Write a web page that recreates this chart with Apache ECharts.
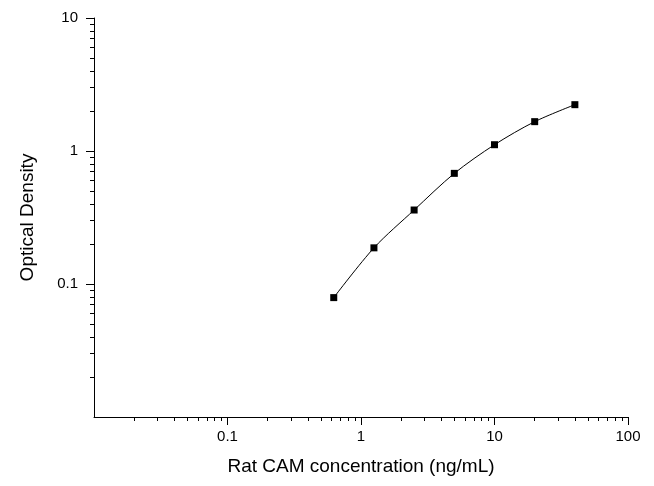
<!DOCTYPE html>
<html>
<head>
<meta charset="utf-8">
<script src="https://cdn.jsdelivr.net/npm/echarts@6/dist/echarts.min.js"></script>
<style>
html,body{margin:0;padding:0;background:#fff;}
#chart{width:654px;height:486px;}
</style>
</head>
<body>
<div id="chart"></div>
<script>
const concentration = [0.625, 1.25, 2.5, 5, 10, 20, 40];
const opticalDensity = [0.079, 0.187, 0.36, 0.679, 1.115, 1.662, 2.23];
const xMajorTicks = [0.1, 1, 10, 100];
const xMinorTicks = [0.02,0.03,0.04,0.05,0.06,0.07,0.08,0.09,0.2,0.3,0.4,0.5,0.6,0.7,0.8,0.9,2,3,4,5,6,7,8,9,20,30,40,50,60,70,80,90];
const yMajorTicks = [0.1, 1, 10];
const yMinorTicks = [0.02,0.03,0.04,0.05,0.06,0.07,0.08,0.09,0.2,0.3,0.4,0.5,0.6,0.7,0.8,0.9,2,3,4,5,6,7,8,9];

const font = 'Liberation Sans, Arial, sans-serif';
const chart = echarts.init(document.getElementById('chart'));
const fmt = v => String(v);

const baseX = {
  type: 'log', logBase: 10, min: 0.01, max: 100, position: 'bottom', offset: 0,
  splitLine: {show: false}, minorTick: {show: false}
};
const baseY = {
  type: 'log', logBase: 10, min: 0.01, max: 10, position: 'left', offset: 0,
  splitLine: {show: false}, minorTick: {show: false}
};

chart.setOption({
  animation: false,
  backgroundColor: '#fff',
  grid: {left: 94, right: 26, top: 18, bottom: 69, containLabel: false},
  xAxis: [
    Object.assign({}, baseX, {
      name: 'Rat CAM concentration (ng/mL)',
      nameLocation: 'middle', nameGap: 40,
      nameTextStyle: {fontFamily: font, fontSize: 19, color: '#000'},
      axisLine: {show: true, lineStyle: {color: '#000', width: 1}},
      axisTick: {show: true, length: 8, customValues: xMajorTicks, lineStyle: {color: '#000', width: 1}},
      axisLabel: {show: true, customValues: xMajorTicks, margin: 12, formatter: fmt,
        fontFamily: font, fontSize: 15, color: '#000'}
    }),
    Object.assign({}, baseX, {
      axisLine: {show: false},
      axisTick: {show: true, length: 4, customValues: xMinorTicks, lineStyle: {color: '#000', width: 1}},
      axisLabel: {show: false}
    })
  ],
  yAxis: [
    Object.assign({}, baseY, {
      name: 'Optical Density',
      nameLocation: 'middle', nameGap: 57,
      nameTextStyle: {fontFamily: font, fontSize: 19, color: '#000'},
      axisLine: {show: true, lineStyle: {color: '#000', width: 1}},
      axisTick: {show: true, length: 8, customValues: yMajorTicks, lineStyle: {color: '#000', width: 1}},
      axisLabel: {show: true, customValues: yMajorTicks, margin: 16, formatter: fmt,
        fontFamily: font, fontSize: 15, color: '#000'}
    }),
    Object.assign({}, baseY, {
      axisLine: {show: false},
      axisTick: {show: true, length: 4, customValues: yMinorTicks, lineStyle: {color: '#000', width: 1}},
      axisLabel: {show: false}
    })
  ],
  series: [{
    type: 'line',
    xAxisIndex: 0, yAxisIndex: 0,
    data: concentration.map((c, i) => [c, opticalDensity[i]]),
    smooth: 0.3,
    symbol: 'rect', symbolSize: 7,
    lineStyle: {color: '#000', width: 1},
    itemStyle: {color: '#000'}
  }]
});
</script>
</body>
</html>
